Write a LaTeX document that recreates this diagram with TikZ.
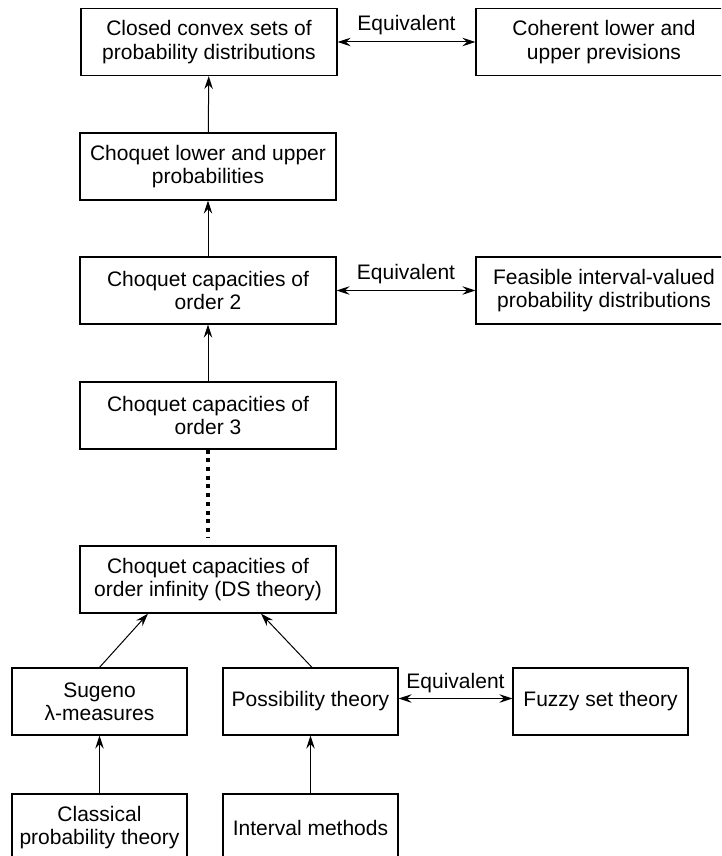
\documentclass[tikz,border=0pt]{standalone}
\usepackage{fontspec}
\setmainfont{Liberation Sans}
\usetikzlibrary{arrows.meta}
\begin{document}
\begin{tikzpicture}[x=1pt,y=-1pt,
  txt/.style={font=\fontsize{21}{23.3}\selectfont},
  box/.style={draw, line width=1.2pt, minimum width=256pt, minimum height=67pt,
    inner sep=0pt, align=center, txt},
  smallbox/.style={box, minimum width=175pt},
  tip/.tip={Stealth[length=13pt,width=8.5pt,inset=4.5pt]},
  arr/.style={-tip, line width=1pt},
  eq/.style={tip-tip, line width=1pt},
  lbl/.style={anchor=base, yshift=11pt, inner sep=0pt, txt},
  dots/.style={line width=4pt, dash pattern=on 4pt off 4.7pt}
]
\clip (0,0) rectangle (721,856);
\fill[white] (0,0) rectangle (721,856);

\node[box] (b1) at (209,42) {Closed convex sets of\\probability distributions};
\node[box] (coh) at (604,42) {Coherent lower and\\upper previsions};
\node[box] (b2) at (208,166.5) {Choquet lower and upper\\probabilities};
\node[box] (b3) at (208,290.5) {Choquet capacities of\\order 2};
\node[box] (feas) at (604,290.5) {Feasible interval-valued\\probability distributions};
\node[box] (b4) at (208,415.5) {Choquet capacities of\\order 3};
\node[box] (b5) at (208,579.5) {Choquet capacities of\\order infinity (DS theory)};
\node[smallbox] (sug) at (99.5,701.5) {Sugeno\\λ-measures};
\node[smallbox] (pos) at (310.5,701.5) {Possibility theory};
\node[smallbox] (fuz) at (600.5,701.5) {Fuzzy set theory};
\node[smallbox] (cla) at (99.5,827.5) {Classical\\probability theory};
\node[smallbox] (int) at (310.5,827.5) {Interval methods};

\draw[eq] (b1) -- node[lbl] {Equivalent} (coh);
\draw[eq] (b3) -- node[lbl] {Equivalent} (feas);
\draw[eq] ([yshift=3pt]pos.east) -- node[lbl, yshift=-1pt] {Equivalent} ([yshift=3pt]fuz.west);

\draw[arr] (b2) -- (b1);
\draw[arr] (b3) -- (b2);
\draw[arr] (b4) -- (b3);
\draw[dots] (b4.south) -- ([yshift=7pt]b5.north);
\draw[arr] (sug.north) -- ([xshift=-60pt]b5.south);
\draw[arr] ([xshift=1.5pt]pos.north) -- ([xshift=53pt]b5.south);
\draw[arr] (cla) -- (sug);
\draw[arr] (int) -- (pos);
\end{tikzpicture}
\end{document}
